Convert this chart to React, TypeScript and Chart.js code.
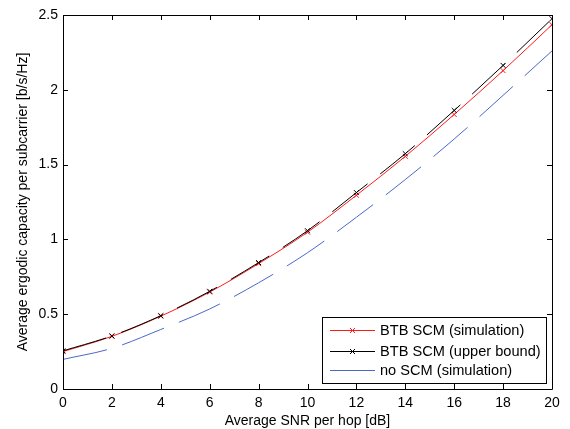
import React, { useEffect, useRef } from "react";
import { Chart, registerables } from "chart.js";

Chart.register(...registerables);

const snr = [0, 2, 4, 6, 8, 10, 12, 14, 16, 18, 20];
const btbSim = [0.25, 0.352, 0.487, 0.648, 0.838, 1.048, 1.295, 1.555, 1.835, 2.128, 2.435];
const btbUpper = [0.255, 0.355, 0.49, 0.653, 0.845, 1.058, 1.313, 1.573, 1.862, 2.163, 2.475];
const noScm = [0.198, 0.272, 0.398, 0.535, 0.71, 0.911, 1.148, 1.4, 1.671, 1.963, 2.26];
const xTicks = [0, 2, 4, 6, 8, 10, 12, 14, 16, 18, 20];
const yTicks = [0, 0.5, 1, 1.5, 2, 2.5];
const legendLabels = ["BTB SCM (simulation)", "BTB SCM (upper bound)", "no SCM (simulation)"];

const RED = "#ff1a1a";
const BLACK = "#000000";
const BLUE = "#4a68c8";
const FONT = "'Liberation Sans', Arial, sans-serif";

const framePlugin = {
  id: "frame",
  afterDraw(chart: any) {
    const { ctx, chartArea } = chart;
    const { left, right, top, bottom } = chartArea;
    const xs = chart.scales.x;
    const ys = chart.scales.y;
    ctx.save();
    ctx.strokeStyle = "#000";
    ctx.lineWidth = 1;
    ctx.beginPath();
    ctx.rect(Math.round(left) + 0.5, Math.round(top) + 0.5, Math.round(right - left), Math.round(bottom - top));
    ctx.stroke();
    const tl = 5;
    ctx.beginPath();
    for (const v of xTicks) {
      const px = Math.round(xs.getPixelForValue(v)) + 0.5;
      ctx.moveTo(px, bottom);
      ctx.lineTo(px, bottom - tl);
      ctx.moveTo(px, top);
      ctx.lineTo(px, top + tl);
    }
    for (const v of yTicks) {
      const py = Math.round(ys.getPixelForValue(v)) + 0.5;
      ctx.moveTo(left, py);
      ctx.lineTo(left + tl, py);
      ctx.moveTo(right, py);
      ctx.lineTo(right - tl, py);
    }
    ctx.stroke();

    // legend
    const bx = 322.5, by = 317.5, bw = 224, bh = 66;
    ctx.fillStyle = "#fff";
    ctx.fillRect(bx, by, bw, bh);
    ctx.strokeStyle = "#000";
    ctx.strokeRect(bx, by, bw, bh);
    const colors = [RED, BLACK, BLUE];
    const markers = [true, true, false];
    const rows = [330, 351, 370];
    ctx.font = `14.6px ${FONT}`;
    ctx.textBaseline = "middle";
    ctx.textAlign = "left";
    rows.forEach((ry, i) => {
      ctx.strokeStyle = colors[i];
      ctx.lineWidth = 1;
      ctx.beginPath();
      ctx.moveTo(330, ry + 0.5);
      ctx.lineTo(375, ry + 0.5);
      ctx.stroke();
      if (markers[i]) {
        const cx = 352.5, r = 2.5;
        ctx.beginPath();
        ctx.moveTo(cx - r, ry + 0.5 - r);
        ctx.lineTo(cx + r, ry + 0.5 + r);
        ctx.moveTo(cx + r, ry + 0.5 - r);
        ctx.lineTo(cx - r, ry + 0.5 + r);
        ctx.stroke();
      }
      ctx.fillStyle = "#000";
      ctx.fillText(legendLabels[i], 380, ry + 1);
    });
    ctx.restore();
  },
};

export default function App() {
  const ref = useRef<HTMLCanvasElement>(null);
  useEffect(() => {
    const canvas = ref.current;
    if (!canvas) return;
    const mk = (d: number[]) => snr.map((x, i) => ({ x, y: d[i] }));
    const chart = new Chart(canvas, {
      type: "line",
      data: {
        datasets: [
          {
            label: legendLabels[2],
            data: mk(noScm),
            borderColor: BLUE,
            borderWidth: 1,
            borderDash: [45, 16],
            pointRadius: 0,
            cubicInterpolationMode: "monotone",
            order: 3,
          },
          {
            label: legendLabels[0],
            data: mk(btbSim),
            borderColor: RED,
            borderWidth: 1,
            pointStyle: "crossRot",
            pointRadius: 3.5,
            pointBorderColor: RED,
            pointBorderWidth: 1,
            cubicInterpolationMode: "monotone",
            order: 2,
          },
          {
            label: legendLabels[1],
            data: mk(btbUpper),
            borderColor: BLACK,
            borderWidth: 1,
            borderDash: [45, 16],
            pointStyle: "crossRot",
            pointRadius: 3.5,
            pointBorderColor: BLACK,
            pointBorderWidth: 1,
            cubicInterpolationMode: "monotone",
            order: 1,
          },
        ],
      },
      options: {
        animation: false,
        responsive: false,
        maintainAspectRatio: false,
        layout: { padding: { top: 15, right: 18, left: 0, bottom: 0 } },
        plugins: { legend: { display: false }, tooltip: { enabled: false } },
        scales: {
          x: {
            type: "linear",
            min: 0,
            max: 20,
            afterFit: (s: any) => { s.height = 40; },
            afterBuildTicks: (s: any) => { s.ticks = xTicks.map((v) => ({ value: v })); },
            grid: { display: false, drawTicks: false },
            border: { display: false },
            ticks: { color: "#000", font: { family: FONT, size: 14 }, padding: 6, maxRotation: 0 },
            title: {
              display: true,
              text: "Average SNR per hop [dB]",
              color: "#000",
              font: { family: FONT, size: 14 },
              padding: { top: 0, bottom: -1 },
            },
          },
          y: {
            type: "linear",
            min: 0,
            max: 2.5,
            afterFit: (s: any) => { s.width = 63; },
            afterBuildTicks: (s: any) => { s.ticks = yTicks.map((v) => ({ value: v })); },
            grid: { display: false, drawTicks: false },
            border: { display: false },
            ticks: {
              color: "#000",
              font: { family: FONT, size: 14 },
              padding: 5,
              callback: (v: any) => String(v),
            },
            title: {
              display: true,
              text: "Average ergodic capacity per subcarrier [b/s/Hz]",
              color: "#000",
              font: { family: FONT, size: 14 },
              padding: { top: 15, bottom: 0 },
            },
          },
        },
      },
      plugins: [framePlugin],
    });
    return () => chart.destroy();
  }, []);
  return (
    <div style={{ position: "fixed", left: 0, top: 0, width: 570, height: 429, background: "#fff" }}>
      <canvas ref={ref} width={570} height={429} style={{ width: 570, height: 429 }} />
    </div>
  );
}
